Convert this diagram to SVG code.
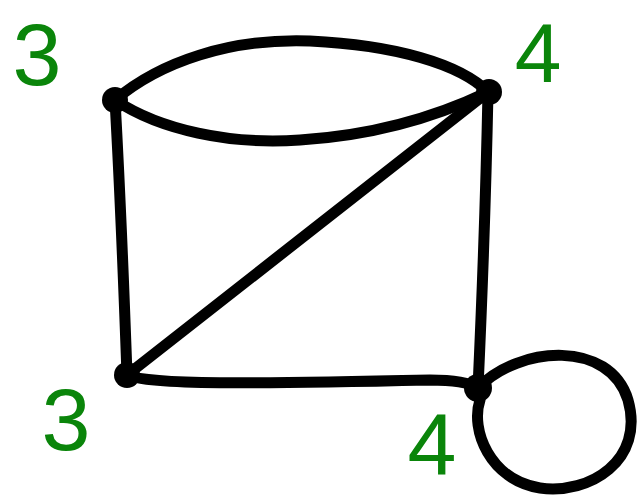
<svg xmlns="http://www.w3.org/2000/svg" width="638" height="496" viewBox="0 0 638 496">
<style>
.e{fill:none;stroke:#000;stroke-width:11;stroke-linecap:round;stroke-linejoin:round}
.n{fill:#000}
.l{fill:#0a850a;font-family:"Liberation Sans",Arial,sans-serif;font-size:88px;text-anchor:middle}
</style>
<rect width="638" height="496" fill="#fff"/>
<g id="connectors">
<path class="e" d="M115,100 C160,62 230,38 310,41 C395,45 460,64 488,92"/>
<path class="e" d="M115,100 C160,130 230,145 300,140 C380,135 440,115 488,92"/>
<path class="e" d="M115,100 C120,190 124,290 127,375"/>
<path class="e" d="M488,92 C486,190 482,300 478,388"/>
<path class="e" d="M127,375 L488,92"/>
<path class="e" d="M127,375 C150,385 250,384 430,380 C455,380 470,383 478,388"/>
<path class="e" d="M478,388 C520,345 610,340 628,400 C645,460 590,495 540,488 C490,480 470,430 480,400"/>
</g>
<g id="nTL"><circle class="n" cx="115" cy="100" r="13"/><text class="l" x="37" y="85">3</text></g>
<g id="nTR"><circle class="n" cx="489" cy="92" r="13"/><text class="l" x="538" y="82" style="font-size:84px">4</text></g>
<g id="nBL"><circle class="n" cx="127" cy="375" r="13"/><text class="l" x="66" y="450">3</text></g>
<g id="nBR"><circle class="n" cx="478" cy="388" r="14"/><text class="l" x="432" y="475">4</text></g>
</svg>
